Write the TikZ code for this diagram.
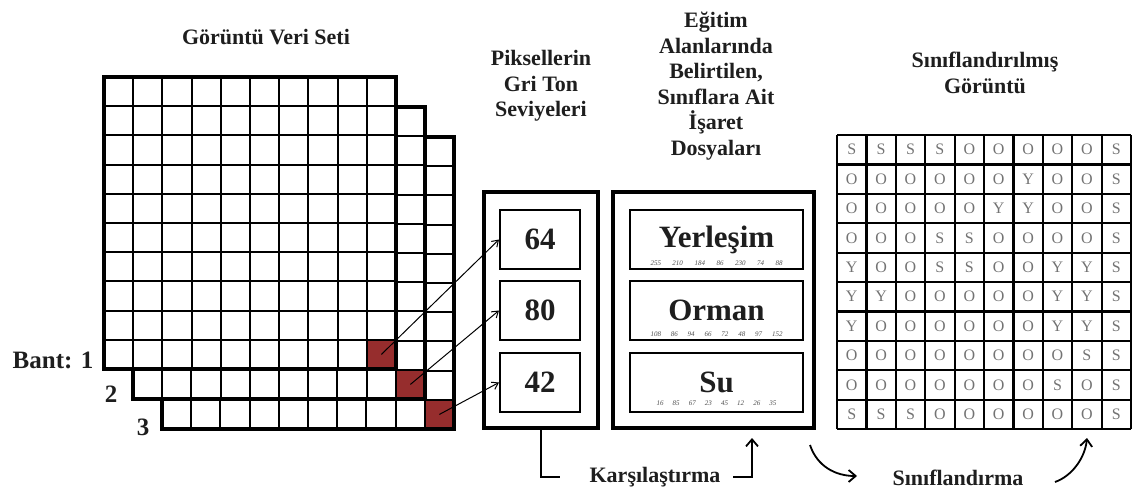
\documentclass[tikz,border=0pt]{standalone}
\usepackage{fontspec}
\setmainfont{Liberation Serif}
\usetikzlibrary{arrows.meta}
\definecolor{cellred}{RGB}{150,45,45}
\definecolor{ink}{RGB}{30,30,30}
\begin{document}
\begin{tikzpicture}[x=1pt,y=-1pt,
  title/.style={font=\bfseries\fontsize{22}{25.5}\selectfont, align=center, text=ink},
  bandlbl/.style={font=\bfseries\fontsize{25}{25}\selectfont, text=ink},
  gl/.style={line width=2pt, black},
  border/.style={line width=3.2pt, black},
  outerbox/.style={draw, line width=3.6pt, minimum width=#1, minimum height=236, inner sep=0pt},
  grayval/.style={draw, line width=2pt, minimum width=80, minimum height=59, inner sep=0pt, font=\bfseries\fontsize{31}{31}\selectfont, text=ink},
  classbox/.style={draw, line width=2pt, minimum width=173, minimum height=59, inner sep=0pt, font=\bfseries\fontsize{31}{31}\selectfont, text=ink},
  tiny/.style={font=\itshape\fontsize{7}{7}\selectfont, text=black!70, inner sep=0pt},
  cls/.style={font=\fontsize{16}{16}\selectfont, text=black!55, inner sep=0pt},
  conn/.style={line width=1.8pt, black},
  arr/.style={line width=1pt, black, -{Straight Barb[length=6pt,width=8pt,line width=1pt]}},
  bigarr/.style={line width=1.8pt, black, -{Straight Barb[length=7pt,width=12pt,line width=1.8pt]}}
]
\useasboundingbox (0,0) rectangle (1136,490);

% ---------- image bands ----------
\foreach \k/\ox/\oy in {3/162/137, 2/133/107, 1/104/77} {
  \fill[white] (\ox,\oy) rectangle ++(292,292);
  \fill[cellred] (\ox+262.8,\oy+262.8) rectangle ++(29.2,29.2);
  \foreach \i in {1,...,9} {
    \draw[gl] (\ox+\i*29.2,\oy) -- ++(0,292);
    \draw[gl] (\ox,\oy+\i*29.2) -- ++(292,0);
  }
  \draw[border] (\ox,\oy) rectangle ++(292,292);
  \coordinate (r\k) at (\ox+277.4,\oy+277.4);
}

\node[title] (t1) at (266,37) {Görüntü Veri Seti};
\node[bandlbl] (b1) at (53,360) {Bant: 1};
\node[bandlbl] (b2) at (111,394) {2};
\node[bandlbl] (b3) at (143,427) {3};

% ---------- gray level box ----------
\node[title] (t2) at (541,86) {Piksellerin\\Gri Ton\\Seviyeleri};
\node[outerbox=114] (gray) at (541,310) {};
\node[grayval] (g64) at (540,239.5) {64};
\node[grayval] (g80) at (540,310.5) {80};
\node[grayval] (g42) at (540,382.5) {42};

\draw[arr] (r1) -- (g64.west);
\draw[arr] (r2) -- (g80.west);
\draw[arr] (r3) -- (g42.west);

% ---------- training signatures ----------
\node[title] (t3) at (716,86) {Eğitim\\Alanlarında\\Belirtilen,\\Sınıflara Ait\\İşaret\\Dosyaları};
\node[outerbox=201] (train) at (713.5,310) {};
\node[classbox] (yer) at (716.5,239.5) {Yerleşim};
\node[classbox] (orm) at (716.5,310.5) {Orman};
\node[classbox] (su) at (716.5,382.5) {Su};
\node[tiny] (n1) at ([yshift=7pt]yer.south) {\makebox[132pt][s]{255 210 184 86 230 74 88}};
\node[tiny] (n2) at ([yshift=7pt]orm.south) {\makebox[132pt][s]{108 86 94 66 72 48 97 152}};
\node[tiny] (n3) at ([yshift=10pt]su.south) {\makebox[120pt][s]{16 85 67 23 45 12 26 35}};

% ---------- classified image ----------
\node[title] (t4) at (985,73) {Sınıflandırılmış\\Görüntü};
\foreach \r/\row in {0/{S,S,S,S,O,O,O,O,O,S},
                     1/{O,O,O,O,O,O,Y,O,O,S},
                     2/{O,O,O,O,O,Y,Y,O,O,S},
                     3/{O,O,O,S,S,O,O,O,O,S},
                     4/{Y,O,O,S,S,O,O,Y,Y,S},
                     5/{Y,Y,O,O,O,O,O,Y,Y,S},
                     6/{Y,O,O,O,O,O,O,Y,Y,S},
                     7/{O,O,O,O,O,O,O,O,S,S},
                     8/{O,O,O,O,O,O,O,S,O,S},
                     9/{S,S,S,O,O,O,O,O,O,S}} {
  \foreach \l [count=\c from 0] in \row {
    \node[cls] (c\r-\c) at (837+14.7+\c*29.4, 135+14.7+\r*29.4) {\l};
  }
}
\foreach \i in {0,...,10} {
  \draw[line width=2.2pt] (837+\i*29.4,135) -- ++(0,294);
  \draw[line width=2.2pt] (837,135+\i*29.4) -- ++(294,0);
}

% ---------- bottom labels ----------
\node[title] (kars) at (655,477) {Karşılaştırma};
\coordinate (kL) at (560,477);
\draw[conn] (gray.south) -- (gray.south |- kL) -- (kL);
\coordinate (kR) at (733,477);
\coordinate (kT) at (752,438);
\draw[bigarr] (kR) -- (kR -| kT) -- (kT);

\node[title] (sinif) at (958,478) {Sınıflandırma};
\coordinate (s1a) at (810,445);
\coordinate (s1b) at (857,476);
\draw[bigarr] (s1a) .. controls (817,466) and (835,476) .. (s1b);
\coordinate (s2a) at (1055,482);
\coordinate (s2b) at (1087,438);
\draw[bigarr] (s2a) .. controls (1072,476) and (1085,458) .. (s2b);
\end{tikzpicture}
\end{document}
